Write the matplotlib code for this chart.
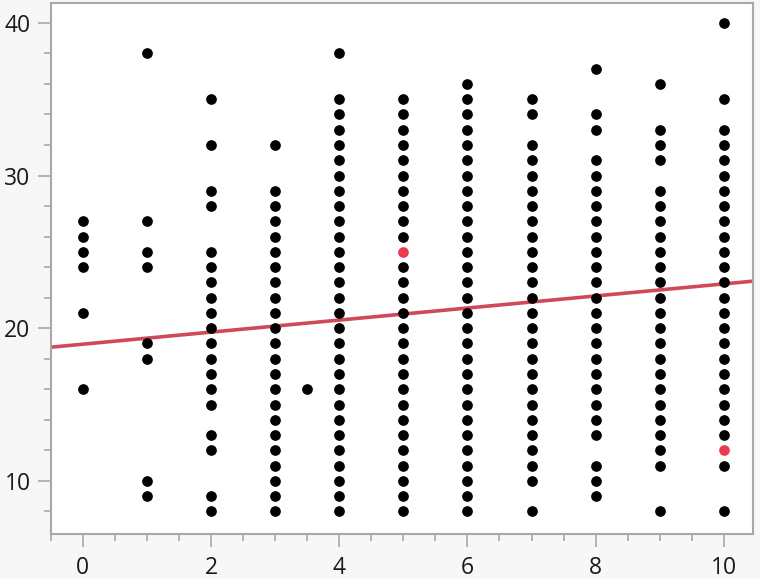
import matplotlib
matplotlib.use("Agg")
import matplotlib.pyplot as plt
from matplotlib.ticker import MultipleLocator
import numpy as np

# ---- data ----
col_x = [0, 1, 2, 3, 3.5, 4, 5, 6, 7, 8, 9, 10]
col_y = [
    [27, 26, 25, 24, 21, 16],
    [38, 27, 25, 24, 19, 18, 10, 9],
    [35, 32, 29, 28, 25, 24, 23, 22, 21, 20, 19, 18, 17, 16, 15, 13, 12, 9, 8],
    [32, 29, 28, 27, 26, 25, 24, 23, 22, 21, 20, 19, 18, 17, 16, 15, 14, 13, 12, 11, 10, 9, 8],
    [16],
    [38, 35, 34, 33, 32, 31, 30, 29, 28, 27, 26, 25, 24, 23, 22, 21, 20, 19, 18, 17, 16, 15, 14, 13, 12, 11, 10, 9, 8],
    [35, 34, 33, 32, 31, 30, 29, 28, 27, 26, 24, 23, 22, 21, 20, 19, 18, 17, 16, 15, 14, 13, 12, 11, 10, 9, 8],
    [36, 35, 34, 33, 32, 31, 30, 29, 28, 27, 26, 25, 24, 23, 22, 21, 20, 19, 18, 17, 16, 15, 14, 13, 12, 11, 10, 9, 8],
    [35, 34, 32, 31, 30, 29, 28, 27, 26, 25, 24, 23, 22, 21, 20, 19, 18, 17, 16, 15, 14, 13, 12, 11, 10, 8],
    [37, 34, 33, 31, 30, 29, 28, 27, 26, 25, 24, 23, 22, 21, 20, 19, 18, 17, 16, 15, 14, 13, 11, 10, 9],
    [36, 33, 32, 31, 29, 28, 27, 26, 25, 24, 23, 22, 21, 20, 19, 18, 17, 16, 15, 14, 13, 12, 11, 8],
    [40, 35, 33, 32, 31, 30, 29, 28, 27, 26, 25, 24, 23, 22, 21, 20, 19, 18, 17, 16, 15, 14, 13, 11, 8],
]
highlight_x = [5, 10]
highlight_y = [25, 12]

fit_intercept = 18.95
fit_slope = 0.395

x_ticks = [0, 2, 4, 6, 8, 10]
y_ticks = [10, 20, 30, 40]

# ---- plot ----
plt.rcParams['font.family'] = ['Open Sans', 'DejaVu Sans']
fig = plt.figure(figsize=(7.6, 5.79), dpi=100, facecolor='#f7f7f7')
ax = fig.add_axes([50.7 / 760, 1 - 533.5 / 579, (752.7 - 50.7) / 760, (533.5 - 3) / 579])
ax.set_facecolor('white')

xs, ys = [], []
for x, yl in zip(col_x, col_y):
    xs.extend([x] * len(yl))
    ys.extend(yl)
ax.plot(xs, ys, 'o', color='black', markersize=7.7, markeredgewidth=0, zorder=3)
ax.plot(highlight_x, highlight_y, 'o', color='#ea3a4f', markersize=7.7, markeredgewidth=0, zorder=4)

xlim = (-0.5, 10.45)
ax.set_xlim(*xlim)
ax.set_ylim(6.55, 41.3)
lx = np.array(xlim)
ax.plot(lx, fit_intercept + fit_slope * lx, color='#d0495b', linewidth=2.6, zorder=2,
        solid_capstyle='butt')

ax.set_xticks(x_ticks)
ax.set_yticks(y_ticks)
ax.xaxis.set_minor_locator(MultipleLocator(0.5))
ax.yaxis.set_minor_locator(MultipleLocator(2))
ax.tick_params(which='major', length=9.5, width=1.2, color='#a8a8a8',
               labelsize=16.5, labelcolor='#1a1a1a')
ax.tick_params(axis='x', which='major', pad=6.5)
ax.tick_params(axis='y', which='major', pad=5)
ax.tick_params(which='minor', length=5, width=1.2, color='#a8a8a8')
for s in ax.spines.values():
    s.set_color('#a8a8a8')
    s.set_linewidth(1.5)

fig.savefig('out.png', dpi=100, facecolor=fig.get_facecolor())
